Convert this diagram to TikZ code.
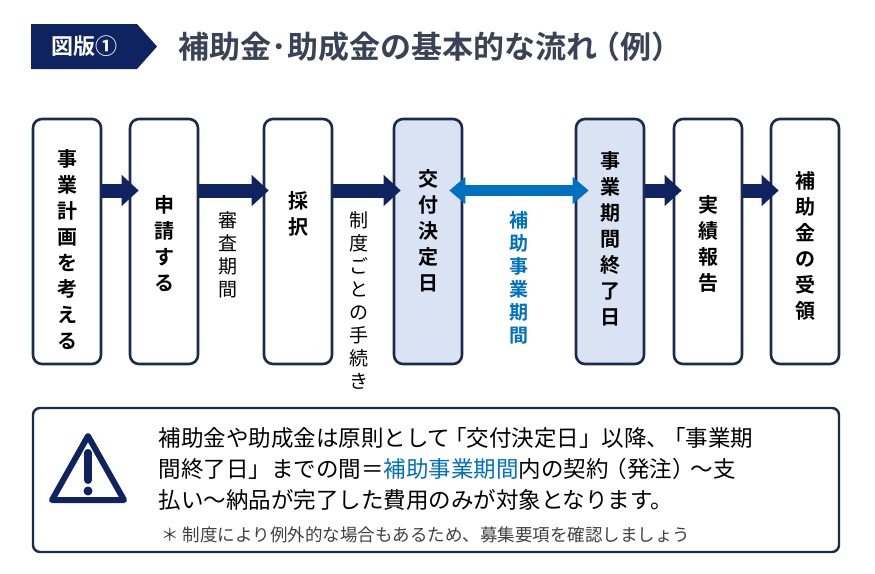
\documentclass[tikz,border=0pt]{standalone}
\usepackage{fontspec}
\setmainfont{Noto Sans CJK JP}[BoldFont={Noto Sans CJK JP Bold}]
\usetikzlibrary{positioning,arrows.meta}
\definecolor{navy}{HTML}{0E2360}
\definecolor{frame}{HTML}{1B2B4E}
\definecolor{pale}{HTML}{DAE3F3}
\definecolor{hlblue}{HTML}{0070C0}
\definecolor{titlegray}{HTML}{3A4356}
\begin{document}
\begin{tikzpicture}[x=1pt,y=-1pt]
\tikzstyle{stage}=[rectangle, rounded corners=9pt, draw=frame, line width=2.6pt, fill=white, minimum width=68pt, minimum height=245pt, inner sep=0pt]
\tikzstyle{key}=[stage, fill=pale]
\tikzstyle{vert}=[align=center, font=\bfseries\fontsize{20}{26}\selectfont, anchor=north]
\tikzstyle{side}=[align=center, font=\fontsize{19}{23}\selectfont, anchor=north]
\tikzstyle{flow}=[navy, line width=14pt, -{Triangle[width=30pt,length=17pt]}]
\tikzstyle{span}=[hlblue, line width=11pt, {Triangle[width=26pt,length=16pt]}-{Triangle[width=26pt,length=16pt]}]
\useasboundingbox (0,0) rectangle (875,573);
% header
\fill[navy] (31,24) -- (137,24) -- (157,46.5) -- (137,69) -- (31,69) -- cycle;
\node[white, font=\bfseries\fontsize{22}{24}\selectfont] (tag) at (84,46.5) {図版①};
\node[titlegray, anchor=west, font=\bfseries\fontsize{31}{34}\selectfont] (title) at (175,47) {補助金･助成金の基本的な流れ\kern-8pt（例）};
% stages
\node[stage] (b1) at (67,241.5) {};
\node[stage] (b2) at (164,241.5) {};
\node[stage] (b3) at (298,241.5) {};
\node[key] (b4) at (428,241.5) {};
\node[key] (b5) at (610,241.5) {};
\node[stage] (b6) at (708,241.5) {};
\node[stage] (b7) at (805,241.5) {};
\node[vert] at (67,146) {事\\業\\計\\画\\を\\考\\え\\る};
\node[vert] at (164,192) {申\\請\\す\\る};
\node[vert] at (298,188) {採\\択};
\node[vert] at (428,166) {交\\付\\決\\定\\日};
\node[vert] at (610,148) {事\\業\\期\\間\\終\\了\\日};
\node[vert] at (708,192) {実\\績\\報\\告};
\node[vert] at (805,168) {補\\助\\金\\の\\受\\領};
% labels between stages
\node[side] at (228,208) {審\\査\\期\\間};
\node[side] at (359,208) {制\\度\\ご\\と\\の\\手\\続\\き};
\node[side, hlblue, font=\bfseries\fontsize{19}{23}\selectfont] at (519,208) {補\\助\\事\\業\\期\\間};
% arrows
\draw[flow] ([yshift=51pt]b1.east) -- ([xshift=10pt,yshift=51pt]b2.west);
\draw[flow] ([yshift=51pt]b2.east) -- ([xshift=6pt,yshift=51pt]b3.west);
\draw[flow] ([yshift=51pt]b3.east) -- ([xshift=8pt,yshift=51pt]b4.west);
\draw[span] ([xshift=-14pt,yshift=51pt]b4.east) -- ([xshift=14pt,yshift=51pt]b5.west);
\draw[flow] ([yshift=51pt]b5.east) -- ([xshift=9pt,yshift=51pt]b6.west);
\draw[flow] ([yshift=51pt]b6.east) -- ([xshift=9pt,yshift=51pt]b7.west);
% note
\node[draw=frame, line width=2.4pt, rounded corners=7pt, minimum width=806pt, minimum height=144pt] (note) at (436,480) {};
\draw[navy, line width=6pt, line join=round] (88,436) -- (124,500) -- (52,500) -- cycle;
\draw[navy, line width=8pt, line cap=round] (88,453) -- (88,480);
\fill[navy] (88,491) circle (4.5pt);
\node[anchor=west, align=left, font=\fontsize{22.5}{31}\selectfont, text=black] (msg) at (155,469) {補助金や助成金は原則として\kern-6pt「交付決定日」以降、\kern-6pt「事業期\\間終了日」までの間＝\textcolor{hlblue}{補助事業期間}内の契約\kern-4pt（発注）\kern-4pt～支\\払い～納品が完了した費用のみが対象となります。};
\node[anchor=west, font=\fontsize{17.5}{20}\selectfont, text=black!75] (fn) at (158,535) {＊ 制度により例外的な場合もあるため、募集要項を確認しましょう};
\end{tikzpicture}
\end{document}
